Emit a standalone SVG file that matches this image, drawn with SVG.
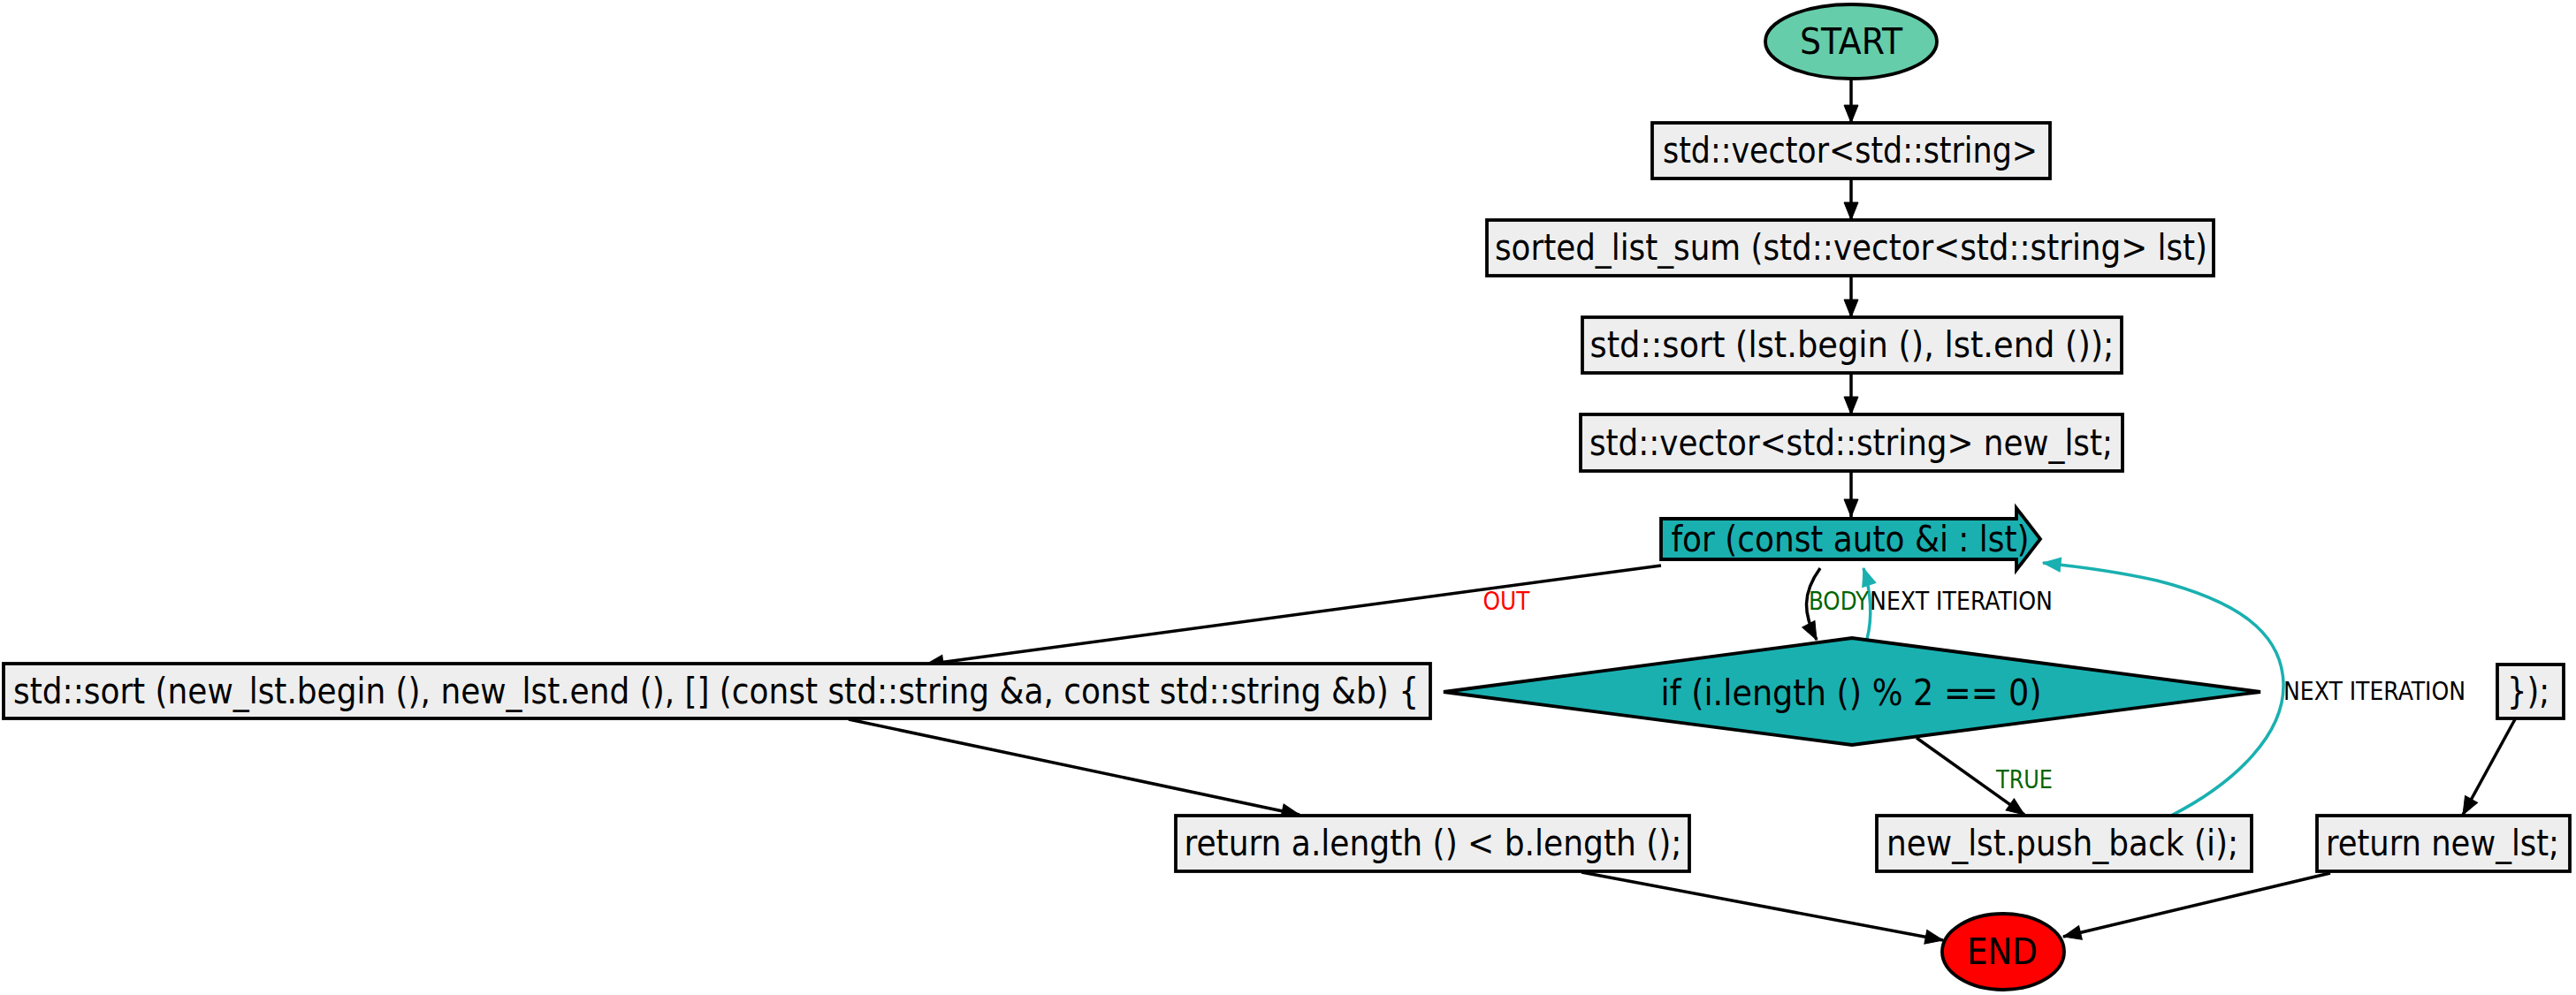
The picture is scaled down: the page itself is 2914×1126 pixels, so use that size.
<svg xmlns="http://www.w3.org/2000/svg" width="2914" height="1126" viewBox="0 0 2914 1126">
<defs>
<style>
.node text{font-family:"DejaVu Sans Condensed","DejaVu Sans",sans-serif;font-size:41px;text-anchor:middle;fill:#000}
.box{fill:#eeeeee;stroke:#000;stroke-width:3.8}
.teal{fill:#1ab0b0;stroke:#000;stroke-width:3.8}
.edge{fill:none;stroke:#000;stroke-width:3.5}
.edge.t{stroke:#1ab0b0}
.lbl{font-family:"DejaVu Sans Condensed","DejaVu Sans",sans-serif;font-size:28px}
</style>
<marker id="ab" markerUnits="userSpaceOnUse" markerWidth="24" markerHeight="18" refX="20" refY="8" orient="auto" overflow="visible">
<path d="M0,0 L20,8 L0,16 z" fill="#000" stroke="#000" stroke-width="1"/>
</marker>
<marker id="at" markerUnits="userSpaceOnUse" markerWidth="24" markerHeight="18" refX="20" refY="8" orient="auto" overflow="visible">
<path d="M0,0 L20,8 L0,16 z" fill="#1ab0b0" stroke="#1ab0b0" stroke-width="1"/>
</marker>
</defs>
<rect width="2914" height="1126" fill="#fff"/>
<g id="edges">
<path class="edge" d="M2094,89 L2094,139" marker-end="url(#ab)"/>
<path class="edge" d="M2094,202 L2094,249" marker-end="url(#ab)"/>
<path class="edge" d="M2094,312 L2094,359" marker-end="url(#ab)"/>
<path class="edge" d="M2094,422 L2094,469" marker-end="url(#ab)"/>
<path class="edge" d="M2094,533 L2094,585" marker-end="url(#ab)"/>
<path class="edge" d="M1879,640 L1047,752" marker-end="url(#ab)"/>
<path class="edge" d="M2059,643 C2038,672 2040,695 2055,724" marker-end="url(#ab)"/>
<path class="edge t" d="M2112,723 C2118,700 2117,670 2108,643" marker-end="url(#at)"/>
<path class="edge" d="M2168,835 L2290,922" marker-end="url(#ab)"/>
<path class="edge t" d="M2456,923 C2530,885 2585,830 2583,773 C2581,715 2530,680 2440,657 C2400,648 2350,641 2311,637" marker-end="url(#at)"/>
<path class="edge" d="M2845,814 L2786,922" marker-end="url(#ab)"/>
<path class="edge" d="M960,814 L1470,922" marker-end="url(#ab)"/>
<path class="edge" d="M1789,987 L2198,1064" marker-end="url(#ab)"/>
<path class="edge" d="M2636,988 L2334,1060" marker-end="url(#ab)"/>
<text class="lbl" x="1704" y="690" text-anchor="middle" fill="#ff0000" textLength="53" lengthAdjust="spacingAndGlyphs">OUT</text>
<text class="lbl" x="2046" y="690" fill="#006400" textLength="68" lengthAdjust="spacingAndGlyphs">BODY</text>
<text class="lbl" x="2115" y="690" fill="#000" textLength="207" lengthAdjust="spacingAndGlyphs">NEXT ITERATION</text>
<text class="lbl" x="2290" y="892" text-anchor="middle" fill="#006400" textLength="64" lengthAdjust="spacingAndGlyphs">TRUE</text>
<text class="lbl" x="2583" y="792" fill="#000" textLength="206" lengthAdjust="spacingAndGlyphs">NEXT ITERATION</text>
</g>
<g id="start" class="node">
<ellipse cx="2094" cy="47" rx="97" ry="42" fill="#66cdaa" stroke="#000" stroke-width="3.8"/>
<text x="2094" y="61" textLength="116" lengthAdjust="spacingAndGlyphs">START</text>
</g>
<g id="n1" class="node">
<rect class="box" x="1869" y="139" width="450" height="63"/>
<text x="2093" y="184" textLength="424" lengthAdjust="spacingAndGlyphs">std::vector&lt;std::string&gt;</text>
</g>
<g id="n2" class="node">
<rect class="box" x="1682" y="249" width="822" height="63"/>
<text x="2094" y="294" textLength="806" lengthAdjust="spacingAndGlyphs">sorted_list_sum (std::vector&lt;std::string&gt; lst)</text>
</g>
<g id="n3" class="node">
<rect class="box" x="1790" y="359" width="610" height="63"/>
<text x="2095" y="404" textLength="593" lengthAdjust="spacingAndGlyphs">std::sort (lst.begin (), lst.end ());</text>
</g>
<g id="n4" class="node">
<rect class="box" x="1788" y="469" width="613" height="64"/>
<text x="2094" y="515" textLength="592" lengthAdjust="spacingAndGlyphs">std::vector&lt;std::string&gt; new_lst;</text>
</g>
<g id="for" class="node">
<polygon class="teal" points="1879,587 2281,587 2281,575 2308,610 2281,645 2281,633 1879,633"/>
<text x="2093" y="624" textLength="405" lengthAdjust="spacingAndGlyphs">for (const auto &amp;i : lst)</text>
</g>
<g id="if" class="node">
<polygon class="teal" points="1633,783 2095,722 2557,783 2095,843"/>
<text x="2094" y="798" textLength="431" lengthAdjust="spacingAndGlyphs">if (i.length () % 2 == 0)</text>
</g>
<g id="sort2" class="node">
<rect class="box" x="4" y="751" width="1614" height="62"/>
<text x="810" y="796" textLength="1590" lengthAdjust="spacingAndGlyphs">std::sort (new_lst.begin (), new_lst.end (), [] (const std::string &amp;a, const std::string &amp;b) {</text>
</g>
<g id="close" class="node">
<rect class="box" x="2825" y="752" width="75" height="61"/>
<text x="2860" y="796" textLength="48" lengthAdjust="spacingAndGlyphs">});</text>
</g>
<g id="ret1" class="node">
<rect class="box" x="1330" y="923" width="581" height="63"/>
<text x="1621" y="968" textLength="563" lengthAdjust="spacingAndGlyphs">return a.length () &lt; b.length ();</text>
</g>
<g id="push" class="node">
<rect class="box" x="2123" y="923" width="424" height="63"/>
<text x="2333" y="968" textLength="398" lengthAdjust="spacingAndGlyphs">new_lst.push_back (i);</text>
</g>
<g id="ret2" class="node">
<rect class="box" x="2621" y="923" width="286" height="63"/>
<text x="2763" y="968" textLength="264" lengthAdjust="spacingAndGlyphs">return new_lst;</text>
</g>
<g id="end" class="node">
<ellipse cx="2266" cy="1077" rx="69" ry="43" fill="#ff0000" stroke="#000" stroke-width="3.8"/>
<text x="2265" y="1091" textLength="80" lengthAdjust="spacingAndGlyphs">END</text>
</g>
</svg>
